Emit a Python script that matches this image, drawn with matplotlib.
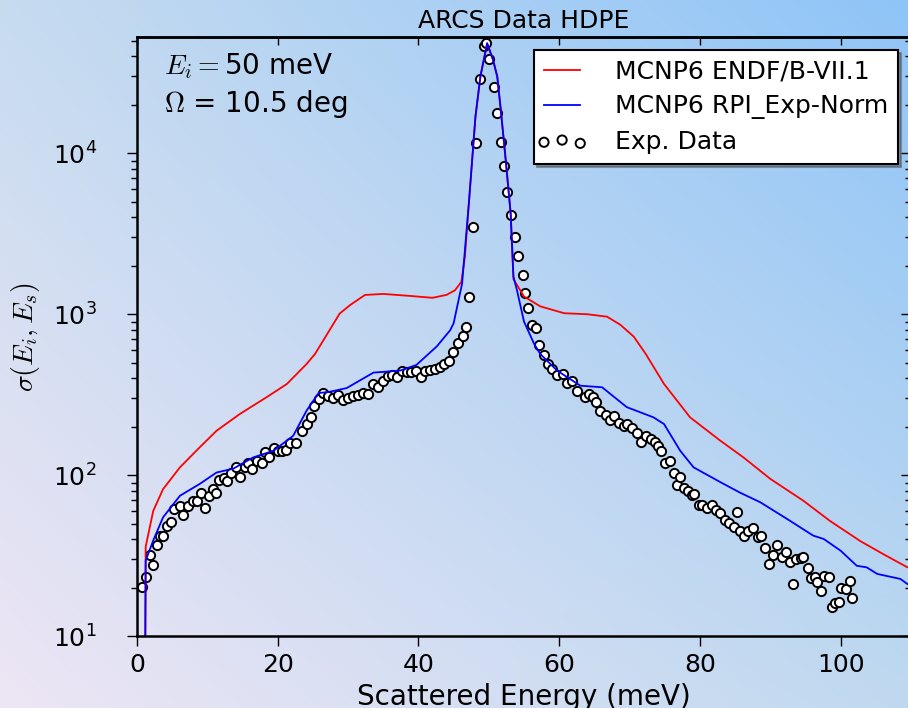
import numpy as np
import matplotlib as mpl
import matplotlib.pyplot as plt
from matplotlib.legend_handler import HandlerPathCollection

mpl.use("agg", force=True)

# MCNP6 ENDF/B-VII.1 (red)
endf_e = [1.15, 1.23, 2.3, 3.7, 6.1, 8.9, 11.3, 14.6, 18.4, 21.3, 24.1, 25.3,
          27.0, 28.8, 30.3, 32.4, 35.0, 38.8, 42.0, 44.0, 45.2, 46.1, 46.6,
          47.2, 48.1, 48.8, 49.76, 50.6, 51.2, 51.7, 52.4, 53.1, 53.5, 55.0,
          57.3, 60.7, 64.0, 66.8, 68.7, 70.6, 72.3, 74.9, 78.6, 82.9, 86.2,
          90.0, 94.7, 98.5, 102.8, 106.1, 109.5, 112.0]
endf_v = [5, 36, 60, 82, 112, 149, 189, 240, 305, 369, 491, 567,
          750, 1010, 1142, 1318, 1337, 1300, 1265, 1320, 1410, 1590, 2280,
          5130, 16900, 29900, 48200, 38000, 29900, 18600, 9080, 4240, 1650, 1290,
          1120, 1015, 1000, 966, 860, 726, 567, 369, 229, 164, 129,
          95, 69.5, 52, 39, 32.3, 26.8, 25]

# MCNP6 RPI_Exp-Norm (blue)
rpi_e = [1.15, 1.23, 2.3, 3.7, 6.1, 8.9, 11.3, 13.7, 16.5, 19.4, 22.2, 24.1,
         25.8, 27.4, 29.8, 33.6, 37.4, 39.7, 42.6, 44.5, 45.0, 46.2, 47.2,
         48.1, 48.8, 49.76, 50.6, 51.2, 51.7, 52.4, 53.1, 53.5, 54.0, 55.0,
         56.4, 57.3, 59.7, 63.0, 66.1, 69.6, 73.4, 74.9, 77.2, 79.1, 82.9,
         85.7, 88.6, 92.4, 96.1, 97.6, 100.0, 102.3, 103.7, 105.2, 108.5,
         109.5, 112.0]
rpi_v = [5, 29.5, 39.3, 54.8, 74.6, 88.3, 104, 110, 129, 142, 176, 252,
         324, 330, 348, 434, 447, 484, 631, 795, 880, 1550, 5130,
         16900, 29900, 48200, 38000, 29900, 18600, 9080, 4240, 1713, 1410, 900,
         660, 567, 447, 360, 352, 265, 229, 208, 142, 112, 90.7,
         78, 67.9, 53.5, 42.2, 40.2, 34, 27.4, 26.8, 24.4, 22.7,
         21.1, 19]

# ARCS experimental data
exp_e = [0.66, 1.23, 1.85, 2.3, 2.9, 3.3, 3.7, 4.2, 4.8, 5.2, 6.1, 6.6, 7.2,
         7.9, 8.5, 9.1, 9.7, 10.3, 10.8, 11.2, 11.7, 12.3, 12.8, 13.3, 14.1,
         14.7, 15.3, 15.8, 16.4, 17.1, 17.7, 18.2, 18.8, 19.4, 20.0, 20.6,
         21.2, 21.8, 22.6, 23.4, 24.1, 24.7, 25.2, 25.8, 26.5, 27.2, 27.9,
         28.6, 29.3, 30.0, 30.7, 31.4, 32.1, 32.8, 33.6, 34.3, 35.0, 35.6,
         36.2, 36.9, 37.6, 38.3, 39.0, 39.6, 40.3, 40.9, 41.6, 42.3, 43.0,
         43.7, 44.4, 44.9, 45.6, 46.3, 46.8, 47.2, 47.7, 48.2, 48.7, 49.3,
         49.6, 50.0, 50.7, 51.2, 51.7, 52.1, 52.6, 53.2, 53.7, 54.2, 54.8,
         55.2, 55.6, 56.2, 56.7, 57.2, 57.8, 58.4, 59.0, 59.7, 60.6, 61.1,
         61.8, 62.6, 63.6, 64.2, 64.8, 65.3, 65.8, 66.6, 67.2, 67.8, 68.5,
         69.2, 69.7, 70.4, 71.0, 71.6, 72.3, 73.0, 73.6, 74.1, 74.5, 75.1,
         75.7, 76.3, 76.7, 77.1, 77.7, 78.3, 78.9, 79.2, 79.8, 80.3, 81.0,
         81.7, 82.3, 82.9, 83.5, 84.1, 84.8, 85.3, 85.7, 86.2, 86.9, 87.6,
         88.2, 88.7, 89.2, 89.8, 90.4, 91.0, 91.7, 92.2, 92.8, 93.2, 93.7,
         94.3, 94.7, 95.3, 95.8, 96.4, 96.7, 97.2, 97.6, 98.3, 98.8, 99.2,
         99.7, 100.1, 100.7, 101.3, 101.6]
exp_v = [20.3, 23.4, 31.8, 27.8, 37, 42, 42, 48.2, 51, 61.6, 64.7, 56.6, 64,
         69.5, 69.5, 77.3, 62.4, 74, 82.3, 77.3, 94, 96.2, 92.6, 103, 113,
         97, 112, 119, 109, 122, 119, 139, 129, 147, 142, 141,
         143, 158, 158, 188, 208, 229, 269, 299, 324, 309, 302,
         313, 295, 302, 309, 313, 324, 320, 368, 351, 386, 415,
         418, 405, 447, 436, 436, 447, 409, 447, 450, 457, 470,
         490, 513, 586, 660, 733, 838, 1276, 3500, 11650, 28800, 46500,
         48700, 38400, 25900, 17900, 11800, 8330, 5770, 4140, 3035, 2300, 1754,
         1361, 1089, 859, 818, 646, 560, 490, 457, 422, 426, 372,
         387, 335, 305, 320, 305, 284, 250, 238, 220, 232, 210,
         203, 208, 197, 182, 162, 176, 168, 162, 153, 142, 119,
         123, 104, 87.5, 98, 83, 80, 75.5, 76.6, 65.6, 65.6, 62.6,
         65.6, 60.8, 58, 52.8, 50.3, 47.5, 59, 45.3, 42.2, 45.3, 47.1,
         41.2, 42.2, 35.2, 28.1, 32, 37, 31.2, 33.3, 28.8, 21.1, 30.2,
         30.6, 31.2, 26.4, 22.9, 23.2, 21.8, 19.2, 23.8, 23.2, 15.1, 16.0,
         16.3, 19.9, 19.7, 22.1, 17.2]

plt.rcParams['font.family'] = ['DejaVu Sans']
plt.rcParams['mathtext.fontset'] = 'cm'

fig = plt.figure(figsize=(9.08, 7.08), dpi=100)
fig.patch.set_alpha(0)

# gradient background (bottom-left lavender -> top-right blue)
c_tl = np.array([0.78, 0.86, 0.94])
c_tr = np.array([0.56, 0.77, 0.97])
c_bl = np.array([0.93, 0.90, 0.96])
c_br = np.array([0.75, 0.85, 0.94])
gx, gy = np.meshgrid(np.linspace(0, 1, 300), np.linspace(0, 1, 300))
gx = gx[..., None]
gy = gy[..., None]
grad = (c_tl * (1 - gx) * (1 - gy) + c_tr * gx * (1 - gy)
        + c_bl * (1 - gx) * gy + c_br * gx * gy)
bg = fig.add_axes([0, 0, 1, 1], zorder=-10)
bg.imshow(grad, extent=[0, 1, 0, 1], aspect='auto', origin='upper')
bg.axis('off')

ax = fig.add_axes([0.1509, 0.1013, 0.8524, 0.846])
ax.set_facecolor('none')

ax.plot(endf_e, endf_v, color='r', lw=1.3, label='MCNP6 ENDF/B-VII.1')
ax.plot(rpi_e, rpi_v, color='b', lw=1.3, label='MCNP6 RPI_Exp-Norm')
pts = ax.scatter(exp_e, exp_v, s=44, facecolors='white', edgecolors='black',
                 linewidths=1.4, label='Exp. Data')

ax.set_yscale('log')
ax.set_xlim(0, 110)
ax.set_ylim(10, 10 ** 4.72)

for sp in ax.spines.values():
    sp.set_linewidth(1.8)

ax.tick_params(axis='both', which='both', top=False, right=False,
               direction='out', labelsize=18)
ax.tick_params(axis='both', which='major', length=7, width=1)
ax.tick_params(axis='both', which='minor', length=4, width=1)
ax.tick_params(axis='x', pad=5)
ax.tick_params(axis='y', pad=22)

sec_x = ax.secondary_xaxis('top')
sec_x.tick_params(direction='in', length=6, width=1, labeltop=False)
sec_x.spines['top'].set_linewidth(1.8)
sec_y = ax.secondary_yaxis('right')
sec_y.tick_params(which='both', direction='in', labelright=False, width=1)
sec_y.tick_params(which='major', length=7)
sec_y.tick_params(which='minor', length=4)

ax.set_title('ARCS Data HDPE', fontsize=18, pad=7)
ax.set_xlabel('Scattered Energy (meV)', fontsize=20, labelpad=4)
ax.set_ylabel(r'$\sigma(E_i,E_s)$', fontsize=20)
ax.yaxis.set_label_coords(-0.123, 0.5)

ax.text(0.035, 0.9387, r'$E_i=$50 meV', transform=ax.transAxes,
        fontsize=20, va='baseline', ha='left')
ax.text(0.035, 0.8753, r'$\Omega$ = 10.5 deg', transform=ax.transAxes,
        fontsize=20, va='baseline', ha='left')

leg = ax.legend(loc='upper right', fontsize=18, shadow=True, fancybox=False,
                framealpha=1, edgecolor='black', handlelength=1.45,
                handletextpad=1.4, labelspacing=0.42, scatterpoints=3,
                borderaxespad=0.5,
                handler_map={pts: HandlerPathCollection(marker_pad=0)})
leg.get_frame().set_linewidth(1.5)

fig.savefig('out.png', dpi=100)
plt.close(fig)
